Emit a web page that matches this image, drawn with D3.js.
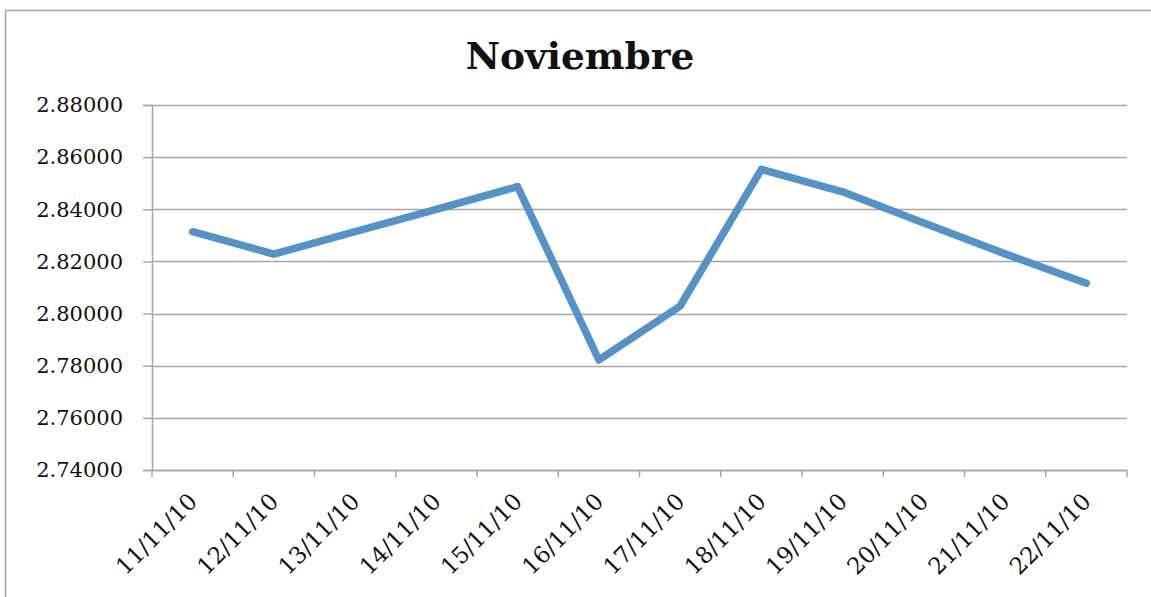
<!DOCTYPE html>
<html>
<head>
<meta charset="utf-8">
<script src="https://cdn.jsdelivr.net/npm/d3@7"></script>
<style>
  body { margin: 0; background: #fff; }
  text { font-family: "DejaVu Serif", serif; fill: #111; }
</style>
</head>
<body>
<svg id="chart" width="1151" height="597"></svg>
<script>
// data
const fechas = ['11/11/10', '12/11/10', '13/11/10', '14/11/10', '15/11/10', '16/11/10',
  '17/11/10', '18/11/10', '19/11/10', '20/11/10', '21/11/10', '22/11/10'];
const valores = [2.8314, 2.8228, 2.8314, 2.8400, 2.8487, 2.7822,
  2.8029, 2.8553, 2.8467, 2.8347, 2.8229, 2.8116];
const yTicks = [2.74, 2.76, 2.78, 2.80, 2.82, 2.84, 2.86, 2.88];
const titulo = 'Noviembre';

const svg = d3.select('#chart');
const margin = { top: 105, right: 24, bottom: 127, left: 152 };
const width = 1151 - margin.left - margin.right;
const height = 597 - margin.top - margin.bottom;

// outer chart frame
svg.append('rect')
  .attr('x', 5.5).attr('y', 10.5)
  .attr('width', 1160).attr('height', 600)
  .attr('fill', 'none').attr('stroke', '#a6a6a6').attr('stroke-width', 1.5);

svg.append('text')
  .attr('x', 580).attr('y', 69)
  .attr('text-anchor', 'middle')
  .style('font-size', '37.5px').style('font-weight', 'bold')
  .text(titulo);

const g = svg.append('g')
  .attr('transform', 'translate(' + margin.left + ',' + margin.top + ')');

const x = d3.scaleBand().domain(fechas).range([0, width]);
const y = d3.scaleLinear().domain([2.74, 2.88]).range([height, 0]);

// grid lines
g.append('g')
  .selectAll('line')
  .data(yTicks)
  .enter()
  .append('line')
  .attr('x1', 0).attr('x2', width)
  .attr('y1', d => Math.round(y(d)) + 0.5)
  .attr('y2', d => Math.round(y(d)) + 0.5)
  .attr('stroke', '#a6a6a6').attr('stroke-width', 1.5);

// y axis
const yAxis = g.append('g')
  .call(d3.axisLeft(y).tickValues(yTicks).tickSize(9).tickPadding(20)
    .tickFormat(d3.format('.5f')));
yAxis.select('.domain').attr('stroke', '#a6a6a6').attr('stroke-width', 1.5);
yAxis.selectAll('.tick line').attr('stroke', '#a6a6a6').attr('stroke-width', 1.5);
yAxis.selectAll('text').style('font-size', '21px')
  .style('font-family', '"DejaVu Serif", serif').attr('fill', '#111');

// x axis: ticks between categories
const xAxis = g.append('g')
  .attr('transform', 'translate(0,' + height + ')');
xAxis.append('line')
  .attr('x1', 0).attr('x2', width).attr('y1', 0.5).attr('y2', 0.5)
  .attr('stroke', '#a6a6a6').attr('stroke-width', 1.5);
xAxis.selectAll('.sep')
  .data(d3.range(fechas.length + 1))
  .enter()
  .append('line')
  .attr('class', 'sep')
  .attr('x1', i => i * x.bandwidth()).attr('x2', i => i * x.bandwidth())
  .attr('y1', 0).attr('y2', 7)
  .attr('stroke', '#a6a6a6').attr('stroke-width', 1.5);
xAxis.selectAll('.lab')
  .data(fechas)
  .enter()
  .append('text')
  .attr('class', 'lab')
  .attr('text-anchor', 'end')
  .attr('transform', d => 'translate(' + (x(d) + x.bandwidth() / 2 + 6) + ',33) rotate(-45)')
  .style('font-size', '23px')
  .text(d => d);

// the series
const line = d3.line()
  .x((d, i) => x(fechas[i]) + x.bandwidth() / 2)
  .y(d => y(d));

g.append('path')
  .datum(valores)
  .attr('d', line)
  .attr('fill', 'none')
  .attr('stroke', '#5592c7')
  .attr('stroke-width', 7.5)
  .attr('stroke-linejoin', 'round')
  .attr('stroke-linecap', 'round');
</script>
</body>
</html>
